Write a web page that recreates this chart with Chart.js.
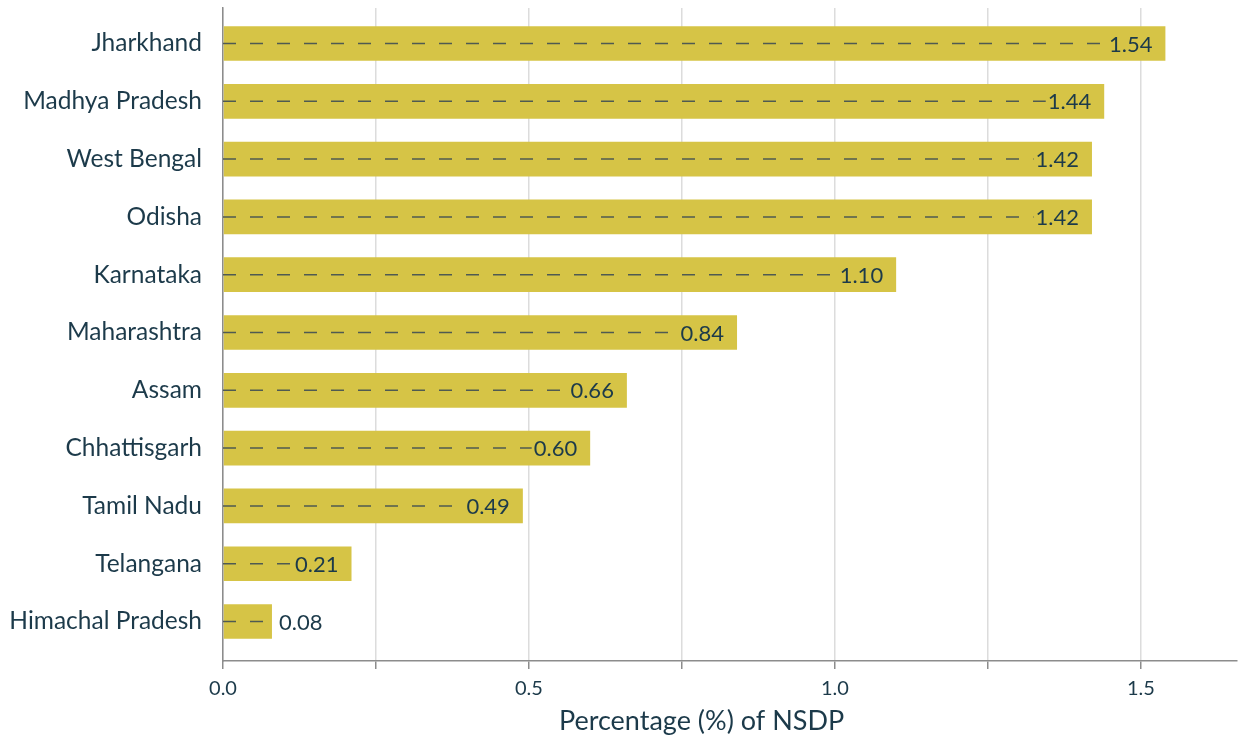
<!DOCTYPE html>
<html>
<head>
<meta charset="utf-8">
<script src="https://cdn.jsdelivr.net/npm/chart.js@4"></script>
<style>
    html, body { margin: 0; padding: 0; background: #fff; }
    #wrapper { width: 1241px; height: 738px; }
</style>
</head>
<body>
<div id="wrapper"><canvas id="chart"></canvas></div>
<script>
// Data
const states = ['Jharkhand', 'Madhya Pradesh', 'West Bengal', 'Odisha', 'Karnataka', 'Maharashtra',
    'Assam', 'Chhattisgarh', 'Tamil Nadu', 'Telangana', 'Himachal Pradesh'];
const values = [1.54, 1.44, 1.42, 1.42, 1.10, 0.84, 0.66, 0.60, 0.49, 0.21, 0.08];
const xTickStep = 0.25;
const axisTitle = 'Percentage (%) of NSDP';

const textColor = '#1c3a4a';
const barColor = '#d6c446';

const yMin = -0.614;
const yMax = 10.683;

Chart.defaults.font.family = 'Lato';

// Value labels with a dashed leader from zero, plus the axis title
const barLabels = {
    id: 'barLabels',
    afterDatasetsDraw(chart) {
        let ctx = chart.ctx;
        let meta = chart.getDatasetMeta(0);
        let base = chart.scales.x.getPixelForValue(0);
        ctx.save();
        ctx.font = '22px Lato';
        ctx.textBaseline = 'middle';
        meta.data.forEach((bar, i) => {
            let txt = values[i].toFixed(2);
            let w = ctx.measureText(txt).width;
            let tx, lineEnd;
            if (bar.x - base > w + 20) {
                tx = bar.x - 13 - w;
                lineEnd = tx - 2;
            } else {
                tx = bar.x + 7;
                lineEnd = bar.x;
            }
            ctx.beginPath();
            ctx.setLineDash([13, 14]);
            ctx.lineWidth = 1.5;
            ctx.strokeStyle = '#4f5a52';
            ctx.moveTo(base, bar.y);
            ctx.lineTo(lineEnd, bar.y);
            ctx.stroke();
            ctx.setLineDash([]);
            ctx.fillStyle = textColor;
            ctx.fillText(txt, tx, bar.y + 1);
        });
        ctx.restore();
    },
    afterDraw(chart) {
        // axis title sits a bit left of the plot centre in the original
        let ctx = chart.ctx;
        let xs = chart.scales.x;
        ctx.save();
        ctx.font = '27px Lato';
        ctx.fillStyle = textColor;
        ctx.textAlign = 'center';
        ctx.textBaseline = 'middle';
        ctx.fillText(axisTitle, xs.getPixelForValue(0.782), chart.height - 17);
        ctx.restore();
    }
};

let ctx = document.getElementById('chart').getContext('2d');
let chart = new Chart(ctx, {
    type: 'bar',
    data: {
        datasets: [{
            data: values.map((v, i) => ({x: v, y: i})),
            backgroundColor: barColor,
            borderWidth: 0,
            barPercentage: 0.6,
            categoryPercentage: 1.0
        }]
    },
    options: {
        indexAxis: 'y',
        responsive: true,
        maintainAspectRatio: false,
        animation: false,
        layout: { padding: { top: 8, right: 4, bottom: 0, left: 0 } },
        plugins: { legend: { display: false }, tooltip: { enabled: false } },
        scales: {
            x: {
                type: 'linear',
                min: 0,
                max: 1.657,
                afterFit(s) { s.height = 77; s.paddingLeft = 0; s.paddingRight = 0; },
                grid: { color: '#dcdcdc', lineWidth: 1.5, tickColor: '#8c8c8c', tickLength: 8 },
                border: { color: '#8c8c8c', width: 1.5 },
                ticks: {
                    stepSize: xTickStep,
                    includeBounds: false,
                    autoSkip: false,
                    maxRotation: 0,
                    padding: 8,
                    color: textColor,
                    font: { size: 20 },
                    callback: v => Math.abs(v * 2 - Math.round(v * 2)) < 1e-6 ? v.toFixed(1) : ''
                }
            },
            y: {
                type: 'linear',
                reverse: true,
                offset: false,
                min: yMin,
                max: yMax,
                afterFit(s) { s.width = 223; s.paddingTop = 0; s.paddingBottom = 0; },
                afterBuildTicks(s) {
                    s.ticks = states.map((name, i) => ({value: i}));
                    s.min = yMin;
                    s.max = yMax;
                },
                grid: { display: false, drawTicks: false, offset: false },
                border: { color: '#8c8c8c', width: 1.5 },
                ticks: {
                    autoSkip: false,
                    padding: 21,
                    color: textColor,
                    font: { size: 24.5 },
                    callback: v => states[v]
                }
            }
        }
    },
    plugins: [barLabels]
});
</script>
</body>
</html>
